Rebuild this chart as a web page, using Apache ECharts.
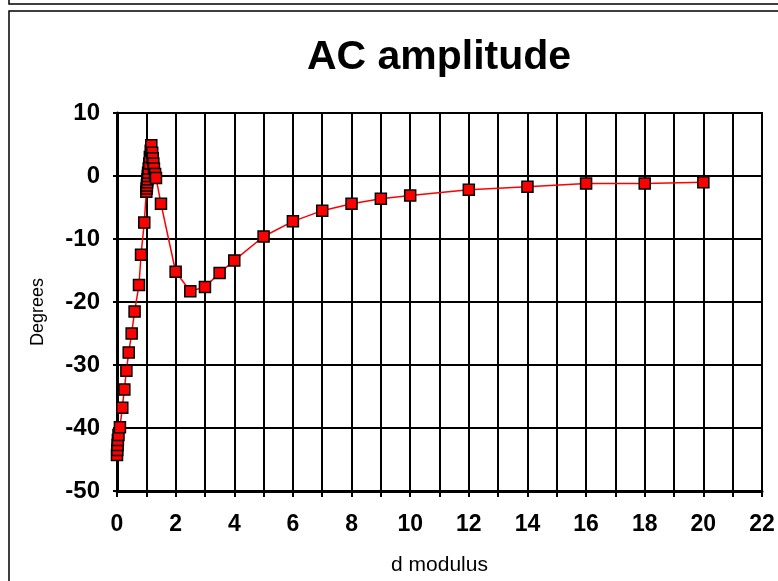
<!DOCTYPE html>
<html>
<head>
<meta charset="utf-8">
<script src="https://cdn.jsdelivr.net/npm/echarts@6/dist/echarts.min.js"></script>
<style>
  html, body { margin: 0; padding: 0; background: #fff; }
  #chart { width: 778px; height: 581px; }
</style>
</head>
<body>
<div id="chart"></div>
<script>
// d modulus vs phase (degrees)
const dModulus = [
  0, 0.01, 0.02, 0.03, 0.05, 0.1, 0.18, 0.25, 0.32, 0.4, 0.5, 0.6, 0.75, 0.82, 0.93,
  1.0, 1.01, 1.02, 1.03, 1.04, 1.05, 1.06, 1.08, 1.1, 1.12, 1.15, 1.17,
  1.2, 1.22, 1.24, 1.26, 1.3, 1.33, 1.5,
  2, 2.5, 3, 3.5, 4, 5, 6, 7, 8, 9, 10, 12, 14, 16, 18, 20
]
const degrees = [
  -44.3, -43.5, -42.7, -41.9, -41.1, -39.9, -36.8, -33.9, -30.9, -28, -25, -21.5, -17.3, -12.5, -7.4,
  -2.5, -2, -1.5, -1, -0.5, 0, 0.5, 1.2, 2, 3, 4, 4.9,
  3.7, 2.8, 2, 1.2, 0.3, -0.3, -4.4,
  -15.2, -18.3, -17.6, -15.4, -13.4, -9.6, -7.2, -5.5, -4.4, -3.6, -3.1, -2.2, -1.7, -1.2, -1.2, -1.0
]

const chart = echarts.init(document.getElementById('chart'))

const font = 'Liberation Sans, Arial, sans-serif'

chart.setOption({
  backgroundColor: '#fff',
  animation: false,
  graphic: [
    { type: 'rect', shape: { x: 9, y: 11, width: 800, height: 600 },
      style: { fill: null, stroke: '#000', lineWidth: 1.5 } },
    { type: 'polyline', shape: { points: [[9, -5], [9, 4], [790, 4]] },
      style: { fill: null, stroke: '#000', lineWidth: 1.5 } },
    { type: 'text', x: 439, y: 58,
      style: { text: 'AC amplitude', fontFamily: font, fontWeight: 'bold', fontSize: 41,
               fill: '#000', align: 'center', verticalAlign: 'middle' } },
    { type: 'text', x: 38, y: 312, rotation: Math.PI / 2,
      style: { text: 'Degrees', fontFamily: font, fontSize: 18,
               fill: '#000', align: 'center', verticalAlign: 'middle' } }
  ],
  grid: { left: 117, right: 16, top: 113, bottom: 88, show: true, borderColor: '#000', borderWidth: 2 },
  xAxis: {
    type: 'value',
    min: 0, max: 22, interval: 2,
    name: 'd modulus',
    nameLocation: 'middle',
    nameGap: 64,
    nameTextStyle: { fontFamily: font, fontSize: 21, color: '#000' },
    axisLine: { onZero: false, lineStyle: { color: '#000', width: 3 } },
    axisTick: { show: true, length: 6, lineStyle: { color: '#000', width: 2 } },
    minorTick: { show: true, splitNumber: 2, length: 6, lineStyle: { color: '#000', width: 2 } },
    axisLabel: { fontFamily: font, fontWeight: 'bold', fontSize: 23, color: '#000', margin: 22 },
    splitLine: { show: true, lineStyle: { color: '#000', width: 2 } },
    minorSplitLine: { show: true, lineStyle: { color: '#000', width: 2 } }
  },
  yAxis: {
    type: 'value',
    min: -50, max: 10, interval: 10,
    axisLine: { show: true, onZero: false, lineStyle: { color: '#000', width: 3 } },
    axisTick: { show: true, length: 4, lineStyle: { color: '#000', width: 2 } },
    axisLabel: { fontFamily: font, fontWeight: 'bold', fontSize: 24, color: '#000', margin: 17 },
    splitLine: { show: true, lineStyle: { color: '#000', width: 2 } }
  },
  series: [{
    type: 'line',
    data: dModulus.map((x, i) => [x, degrees[i]]),
    symbol: 'rect',
    symbolSize: 11,
    showAllSymbol: true,
    clip: true,
    lineStyle: { color: '#ff0000', width: 1.5 },
    itemStyle: { color: '#ff0000', borderColor: '#000', borderWidth: 1.5 }
  }]
})
</script>
</body>
</html>
